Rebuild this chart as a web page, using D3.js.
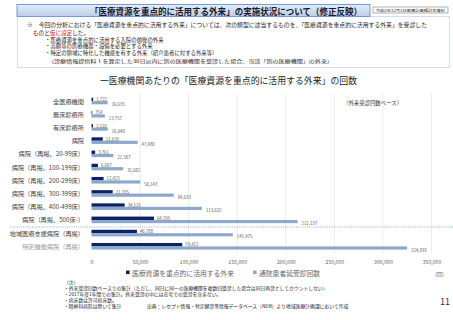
<!DOCTYPE html>
<html><head><meta charset="utf-8">
<script src="https://cdn.jsdelivr.net/npm/d3@7"></script>
<style>body{margin:0;background:#fff}svg{display:block}text{font-family:"Noto Sans CJK JP","Noto Sans",sans-serif}</style>
</head><body>
<script>
const categories = ["全医療機関","無床診療所","有床診療所","病院","病院（再掲、20-99床）","病院（再掲、100-199床）","病院（再掲、200-299床）","病院（再掲、300-399床）","病院（再掲、400-499床）","病院（再掲、500床-）","地域医療支援病院（再掲）","特定機能病院（再掲）"];
const focusVisits = [1722,754,1518,11639,3761,6607,12423,21785,34115,64335,46788,93421];
const totalVisits = [16635,13757,16648,47480,22587,32682,50143,84633,113632,212137,145475,324838];
const xTicks = [0,50000,100000,150000,200000,250000,300000,350000];
const seriesNames = ["医療資源を重点的に活用する外来","通院患者延受診回数"];
const notes = ["（注）","・外来受診回数ベースでの集計（ただし、同日に同一の医療機関を複数回受診した場合は同日再診としてカウントしない）","・2017年度1年間での集計。外来受診の中には在宅での受診を含まない。","・病床数は許可病床数。","・精神科病院は除いて集計"];

const W=453,H=320;
const svg=d3.select("body").append("svg").attr("width",W).attr("height",H);
const defs=svg.append("defs");
const g1=defs.append("linearGradient").attr("id","hg").attr("x1",0).attr("y1",0).attr("x2",0).attr("y2",1);
g1.append("stop").attr("offset","0").attr("stop-color","#e4edf9");
g1.append("stop").attr("offset","1").attr("stop-color","#b9cde8");

// header
svg.append("rect").attr("x",17).attr("y",4.5).attr("width",353).attr("height",12).attr("fill","url(#hg)").attr("stroke","#5b84c4").attr("stroke-width",0.8);
svg.append("text").attr("x",226).attr("y",11).attr("text-anchor","middle").attr("dominant-baseline","central")
 .attr("font-size",8.9).attr("font-weight","bold").attr("fill","#1a1a2e").attr("textLength",272).attr("lengthAdjust","spacingAndGlyphs")
 .text("「医療資源を重点的に活用する外来」の実施状況について（修正反映）");
svg.append("rect").attr("x",373).attr("y",7).attr("width",75).attr("height",6).attr("fill","#fff").attr("stroke","#666").attr("stroke-width",0.5);
svg.append("text").attr("x",410.5).attr("y",10.1).attr("text-anchor","middle").attr("dominant-baseline","central")
 .attr("font-size",3.9).attr("fill","#222").attr("textLength",69).attr("lengthAdjust","spacingAndGlyphs").text("令和2年12月3日医療計画検討会資料");

// dotted box
svg.append("rect").attr("x",17.5).attr("y",16.5).attr("width",432).attr("height",51).attr("fill","none").attr("stroke","#7f9fd0").attr("stroke-width",0.7).attr("stroke-dasharray","1,1");
svg.append("text").attr("x",27).attr("y",25).attr("dominant-baseline","central").attr("font-size",5.6).attr("fill","#222")
 .attr("textLength",400).attr("lengthAdjust","spacingAndGlyphs")
 .text("※　今回の分析における「医療資源を重点的に活用する外来」については、次の類型に該当するものを、「医療資源を重点的に活用する外来」を受診した");
const t2=svg.append("text").attr("x",33).attr("y",32.5).attr("dominant-baseline","central").attr("font-size",5.6).attr("fill","#222");
t2.append("tspan").text("ものと");
t2.append("tspan").attr("fill","#e0201b").text("仮に設定");
t2.append("tspan").text("した。");
const bl=[["・医療資源を重点的に活用する入院の前後の外来",39.5],["・高額等の医療機器・設備を必要とする外来",46.3],["・特定の領域に特化した機能を有する外来（紹介患者に対する外来等）",53.3]];
bl.forEach(b=>svg.append("text").attr("x",45).attr("y",b[1]).attr("dominant-baseline","central").attr("font-size",5.4).attr("fill","#222").text(b[0]));
svg.append("text").attr("x",48).attr("y",61.2).attr("dominant-baseline","central").attr("font-size",4.6).attr("fill","#222")
 .attr("textLength",285).attr("lengthAdjust","spacingAndGlyphs")
 .text("（診療情報提供料Ⅰを算定した30日以内に別の医療機関を受診した場合、当該「別の医療機関」の外来）");

// chart title
svg.append("text").attr("x",228.5).attr("y",80).attr("text-anchor","middle").attr("dominant-baseline","central")
 .attr("font-size",9).attr("fill","#222").attr("textLength",257).attr("lengthAdjust","spacingAndGlyphs")
 .text("一医療機関あたりの「医療資源を重点的に活用する外来」の回数");

// scales
const x=d3.scaleLinear().domain([0,350000]).range([91.5,431.5]);
const y=d3.scaleBand().domain(categories).range([94.5,253]);
const yc=c=>y(c)+y.bandwidth()/2;

// grid
svg.append("g").selectAll("line").data(xTicks.slice(1)).join("line")
 .attr("x1",d=>x(d)).attr("x2",d=>x(d)).attr("y1",94).attr("y2",253).attr("stroke","#e3e3e3").attr("stroke-width",0.7);

// axis labels
const ax=svg.append("g").attr("transform","translate(0,261)").call(d3.axisBottom(x).tickValues(xTicks).tickSize(0).tickFormat(d3.format(",")));
ax.select(".domain").remove();
ax.selectAll("text").attr("font-size",5.2).attr("fill","#666").attr("dy",0).attr("dominant-baseline","central").attr("y",0);

// y labels
svg.append("g").selectAll("text").data(categories).join("text")
 .attr("x",84).attr("y",d=>yc(d)).attr("text-anchor","end").attr("dominant-baseline","central")
 .attr("font-size",6.2).attr("fill",(d,i)=>i===11?"#9a9a9a":"#404040").text(d=>d);

// separator
svg.append("line").attr("x1",10).attr("x2",453).attr("y1",227).attr("y2",227).attr("stroke","#6f93cf").attr("stroke-width",0.8).attr("stroke-dasharray","1,1.2");

const dark="#0b2265", light="#8ea8cc";
svg.append("g").selectAll("rect").data(categories).join("rect")
 .attr("x",x(0)).attr("y",d=>yc(d)-3.4).attr("height",3.4).attr("width",(d,i)=>x(focusVisits[i])-x(0)).attr("fill",dark);
svg.append("g").selectAll("rect").data(categories).join("rect")
 .attr("x",x(0)).attr("y",d=>yc(d)).attr("height",3.2).attr("width",(d,i)=>x(totalVisits[i])-x(0)).attr("fill",light);
svg.append("g").selectAll("text").data(categories).join("text")
 .attr("x",(d,i)=>x(focusVisits[i])+3).attr("y",d=>yc(d)-2).attr("dominant-baseline","central")
 .attr("font-size",4.3).attr("fill","#555").text((d,i)=>d3.format(",")(focusVisits[i]));
svg.append("g").selectAll("text").data(categories).join("text")
 .attr("x",(d,i)=>x(totalVisits[i])+4).attr("y",d=>yc(d)+3.2).attr("dominant-baseline","central")
 .attr("font-size",4.3).attr("fill","#555").text((d,i)=>d3.format(",")(totalVisits[i]));

// 外来受診回数ベース
svg.append("text").attr("x",343).attr("y",103).attr("dominant-baseline","central").attr("font-size",5.4).attr("fill","#333").text("（外来受診回数ベース）");

// legend
const lg=[[126,dark,seriesNames[0]],[253,light,seriesNames[1]]];
lg.forEach(l=>{
 svg.append("rect").attr("x",l[0]).attr("y",270.5).attr("width",3.6).attr("height",3.6).attr("fill",l[1]);
 svg.append("text").attr("x",l[0]+6).attr("y",272.5).attr("dominant-baseline","central").attr("font-size",6.8).attr("fill","#666").text(l[2]);
});
svg.append("text").attr("x",432).attr("y",273).attr("dominant-baseline","central").attr("font-size",5).attr("fill","#555").text("（回）");

// notes
const ny=[281,287,293,299,305.5];
notes.forEach((n,i)=>svg.append("text").attr("x",64).attr("y",ny[i]).attr("dominant-baseline","central").attr("font-size",4.8).attr("fill","#222").text(n));
svg.append("text").attr("x",147).attr("y",305.5).attr("dominant-baseline","central").attr("font-size",4.8).attr("fill","#222")
 .text("出典：レセプト情報・特定健診等情報データベース（NDB）より地域医療計画課において作成");
svg.append("text").attr("x",445).attr("y",301).attr("text-anchor","middle").attr("dominant-baseline","central").attr("font-size",9).attr("fill","#333").text("11");
</script>
</body></html>
